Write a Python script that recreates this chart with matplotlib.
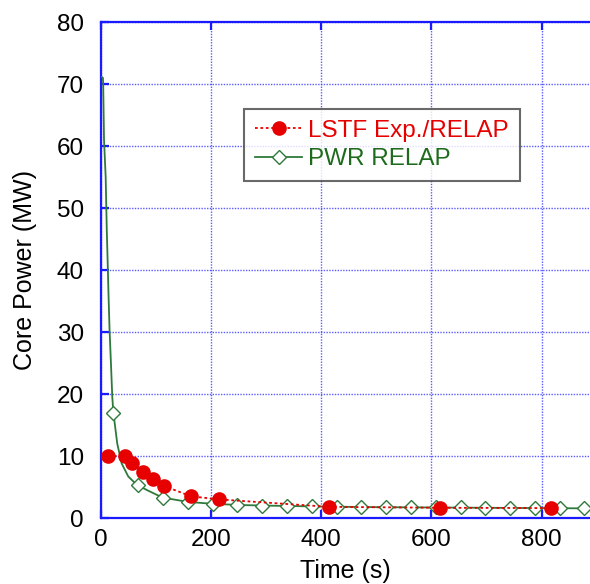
import matplotlib
matplotlib.use("Agg")
import matplotlib.pyplot as plt
from matplotlib.lines import Line2D

plt.rcParams['font.family'] = ['Liberation Sans', 'DejaVu Sans']

# LSTF experiment / RELAP (red dots)
lstf_t = [14, 44, 56, 76, 95, 114, 164, 215, 415, 615, 817]
lstf_p = [10.0, 10.0, 8.9, 7.4, 6.3, 5.2, 3.5, 3.0, 1.8, 1.65, 1.6]

# PWR RELAP curve
pwr_t = [0, 4, 4.5, 6, 9, 11, 13, 14, 16, 19, 21, 23, 30, 38, 50, 65, 84,
         112, 158, 202, 250, 300, 400, 500, 600, 700, 800, 890]
pwr_p = [71.2, 71.0, 70.0, 61.0, 55.0, 46.5, 40.0, 36.5, 30.5, 24.0, 19.5,
         17.0, 12.0, 8.8, 6.7, 5.4, 4.5, 3.3, 2.6, 2.3, 2.1, 2.0, 1.85,
         1.75, 1.7, 1.65, 1.6, 1.55]

# PWR RELAP diamond markers
dia_t = [23, 68, 113, 158, 203, 248, 293, 338, 383, 428, 473, 518, 563,
         608, 653, 698, 743, 788, 833, 878]
dia_p = [17.0, 5.3, 3.3, 2.6, 2.3, 2.1, 2.0, 1.95, 1.9, 1.85, 1.8, 1.75,
         1.75, 1.7, 1.7, 1.65, 1.65, 1.6, 1.6, 1.55]

red = '#e60000'
green = '#2f7a3a'
blue = '#1a1aff'

fig = plt.figure(figsize=(5.9, 5.84), dpi=100)
ax = fig.add_axes([0.1707, 0.113, 0.8293, 0.8493])

ax.plot(pwr_t, pwr_p, color=green, lw=1.3, zorder=3)
ax.plot(dia_t, dia_p, ls='none', marker='D', ms=7.5, mfc='white',
        mec=green, mew=1.0, zorder=4)
ax.plot(lstf_t, lstf_p, color=red, ls=(0, (1.5, 1.5)), lw=1.3,
        marker='o', ms=9.5, mfc=red, mec=red, zorder=5)

ax.set_xlim(0, 888)
ax.set_ylim(0, 80)
ax.set_xticks([0, 200, 400, 600, 800])
ax.set_yticks(range(0, 81, 10))

ax.grid(True, color='#4040ff', ls=(0, (1, 1)), lw=1.0, alpha=0.85)
ax.set_axisbelow(True)

for side in ['left', 'top', 'bottom']:
    ax.spines[side].set_color(blue)
    ax.spines[side].set_linewidth(1.6)
ax.spines['right'].set_visible(False)

ax.tick_params(axis='both', direction='in', length=6, width=1.6,
               color=blue, labelsize=17.5)
ax.tick_params(axis='x', top=True, pad=8)
ax.tick_params(axis='y', pad=12)

ax.set_xlabel('Time (s)', fontsize=18, labelpad=6)
ax.set_ylabel('Core Power (MW)', fontsize=18, labelpad=14)

handles = [
    Line2D([], [], color=red, ls=(0, (1.5, 1.5)), lw=1.3, marker='o',
           ms=9.5, mfc=red, mec=red),
    Line2D([], [], color=green, lw=1.3, marker='D', ms=7.5, mfc='white',
           mec=green, mew=1.0),
]
leg = ax.legend(handles, ['LSTF Exp./RELAP', 'PWR RELAP'],
                loc='upper left', bbox_to_anchor=(0.293, 0.8246),
                borderaxespad=0, fontsize=17.5, frameon=True, fancybox=False,
                edgecolor='#444444', handlelength=1.95, handletextpad=0.25,
                borderpad=0.45, labelspacing=0.25)
leg.get_frame().set_linewidth(1.5)
for txt, col in zip(leg.get_texts(), [red, '#1e6b1e']):
    txt.set_color(col)

fig.savefig('out.png', dpi=100)
